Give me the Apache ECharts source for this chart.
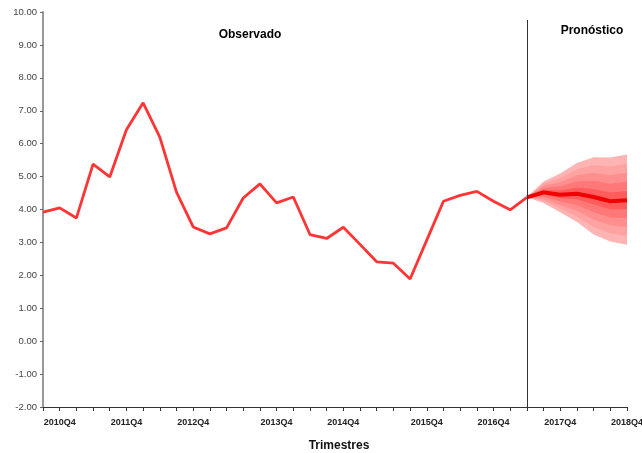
<!DOCTYPE html>
<html>
<head>
<meta charset="utf-8">
<script src="https://cdn.jsdelivr.net/npm/echarts@6/dist/echarts.min.js"></script>
<style>
  html, body { margin: 0; padding: 0; background: #fff; }
  #chart { width: 642px; height: 453px; }
</style>
</head>
<body>
<div id="chart"></div>
<script>
// Quarter categories; year labels sit on the quarters that carry them
const periods = [
  '', '2010Q4', '', '', '', '2011Q4', '', '', '', '2012Q4', '', '', '', '',
  '2013Q4', '', '', '', '2014Q4', '', '', '', '', '2015Q4', '', '', '', '2016Q4',
  '', '', '', '2017Q4', '', '', '', '2018Q4'
];

// Observed series (first 30 quarters)
const observed = [
  3.92, 4.05, 3.74, 5.38, 4.99, 6.42, 7.24, 6.20, 4.53, 3.47,
  3.26, 3.44, 4.35, 4.78, 4.20, 4.38, 3.24, 3.12, 3.46, 2.94,
  2.41, 2.37, 1.89, 3.07, 4.25, 4.43, 4.55, 4.25, 3.99, 4.37
];

// Forecast: central path and fan bounds, from the last observation onward
const forecastCenter = [4.37, 4.52, 4.45, 4.48, 4.38, 4.25, 4.28];

// Fan bands, outermost first: upper and lower bounds
const bandUpper = [
  [4.37, 4.85, 5.09, 5.41, 5.59, 5.58, 5.67],
  [4.37, 4.78, 4.96, 5.22, 5.35, 5.31, 5.39],
  [4.37, 4.72, 4.83, 5.04, 5.11, 5.05, 5.11],
  [4.37, 4.65, 4.71, 4.85, 4.87, 4.78, 4.84],
  [4.37, 4.59, 4.58, 4.67, 4.62, 4.52, 4.56]
];
const bandLower = [
  [4.37, 4.20, 3.92, 3.62, 3.24, 3.03, 2.93],
  [4.37, 4.26, 4.03, 3.79, 3.47, 3.27, 3.20],
  [4.37, 4.33, 4.13, 3.96, 3.70, 3.52, 3.47],
  [4.37, 4.39, 4.24, 4.14, 3.92, 3.76, 3.74],
  [4.37, 4.46, 4.34, 4.31, 4.15, 4.01, 4.01]
];
const bandColors = ['#ffb4b4', '#ffa2a2', '#ff8e8e', '#ff7878', '#ff5c5c'];

const forecastStart = observed.length - 1;
const pad = n => Array(n).fill('-');

const series = [];

// Fan bands: transparent base plus stacked width
bandUpper.forEach((up, k) => {
  const lo = bandLower[k];
  series.push({
    type: 'line', stack: 'band' + k, symbol: 'none', silent: true,
    lineStyle: { width: 0, opacity: 0 },
    data: pad(forecastStart).concat(lo)
  });
  series.push({
    type: 'line', stack: 'band' + k, symbol: 'none', silent: true,
    lineStyle: { width: 0, opacity: 0 },
    areaStyle: { color: bandColors[k], opacity: 1 },
    data: pad(forecastStart).concat(up.map((v, i) => +(v - lo[i]).toFixed(2)))
  });
});

// Central forecast path
series.push({
  type: 'line', symbol: 'none', silent: true,
  lineStyle: { color: '#f00000', width: 4 },
  data: pad(forecastStart).concat(forecastCenter)
});

// Observed path with the separator between history and forecast
series.push({
  type: 'line', symbol: 'none', silent: true,
  lineStyle: { color: '#ff3535', width: 2.8 },
  data: observed.concat(pad(periods.length - observed.length)),
  markLine: {
    silent: true, symbol: 'none', label: { show: false },
    lineStyle: { color: '#333', width: 1, type: 'solid' },
    data: [[{ coord: [forecastStart, 9.76] }, { coord: [forecastStart, -2] }]]
  }
});

const chart = echarts.init(document.getElementById('chart'), null, { renderer: 'canvas' });
chart.setOption({
  animation: false,
  backgroundColor: '#fff',
  grid: { left: 43, right: 15, top: 12, bottom: 46, containLabel: false, outerBoundsMode: 'none' },
  xAxis: {
    type: 'category',
    data: periods,
    boundaryGap: false,
    name: 'Trimestres',
    nameLocation: 'middle',
    nameGap: 33,
    nameTextStyle: { fontFamily: 'Liberation Sans', fontWeight: 'bold', fontSize: 12, color: '#111', padding: [0, 0, 0, 8] },
    axisLine: { onZero: false, lineStyle: { color: '#333', width: 1 } },
    axisTick: { show: true, interval: 0, length: 4, lineStyle: { color: '#333' } },
    axisLabel: {
      interval: 0, margin: 11,
      fontFamily: 'Liberation Sans', fontWeight: 'bold', fontSize: 9, color: '#222'
    },
    splitLine: { show: false }
  },
  yAxis: {
    type: 'value',
    min: -2, max: 10, interval: 1,
    axisLine: { show: true, lineStyle: { color: '#999', width: 2 } },
    axisTick: { show: true, length: 3, lineStyle: { color: '#666' } },
    axisLabel: {
      margin: 6,
      fontFamily: 'Liberation Sans', fontSize: 9.5, color: '#444',
      formatter: v => v.toFixed(2)
    },
    splitLine: { show: false }
  },
  graphic: [
    {
      type: 'text', x: 250, y: 35, silent: true,
      style: { text: 'Observado', fill: '#000', font: 'bold 12px "Liberation Sans"', textAlign: 'center', textVerticalAlign: 'middle' }
    },
    {
      type: 'text', x: 592, y: 31, silent: true,
      style: { text: 'Pronóstico', fill: '#000', font: 'bold 12px "Liberation Sans"', textAlign: 'center', textVerticalAlign: 'middle' }
    }
  ],
  series: series
});
</script>
</body>
</html>
